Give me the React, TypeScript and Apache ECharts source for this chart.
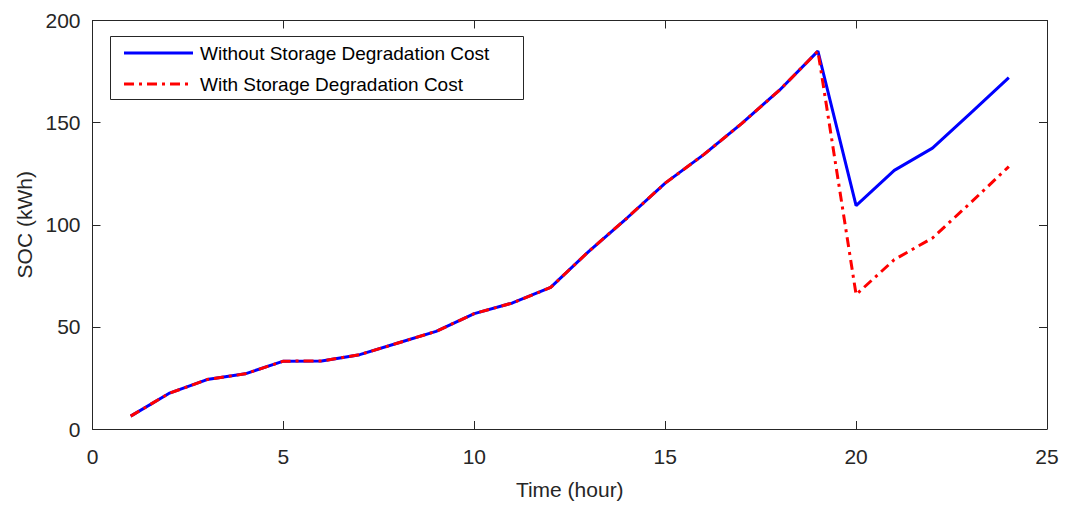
import React, { useEffect, useRef } from "react";
import * as echarts from "echarts";

const hours = [1, 2, 3, 4, 5, 6, 7, 8, 9, 10, 11, 12, 13, 14, 15, 16, 17, 18, 19, 20, 21, 22, 23, 24];
const withoutCost = [6.3, 17.4, 24.2, 27, 33.2, 33.3, 36.4, 42.1, 47.8, 56.5, 61.7, 69.3, 87, 103.3, 120.4, 134.2, 149.5, 166, 185, 109.4, 126.6, 137.5, 154.7, 172];
const withCost = [6.3, 17.4, 24.2, 27, 33.2, 33.3, 36.4, 42.1, 47.8, 56.5, 61.7, 69.3, 87, 103.3, 120.4, 134.2, 149.5, 166, 185, 65.8, 82.9, 93.5, 110.8, 128.5];
const seriesNames = ["Without Storage Degradation Cost", "With Storage Degradation Cost"];
const seriesColors = ["#0000ff", "#ff0000"];
const xTitle = "Time (hour)";
const yTitle = "SOC (kWh)";

const FONT = "'Liberation Sans', Arial, Helvetica, sans-serif";
const AX = "#262626";
const DASHDOT = [10, 5, 3, 5];

export default function App() {
  const ref = useRef<HTMLDivElement>(null);
  useEffect(() => {
    if (!ref.current) return;
    const chart = echarts.init(ref.current, undefined, { renderer: "svg" });
    const axisLine = { show: true, onZero: false, lineStyle: { color: AX, width: 1 } };
    const axisTick = { show: true, inside: true, length: 8, lineStyle: { color: AX } };
    const legendRows = [53, 84];
    const legendGraphics: any[] = [
      {
        type: "rect",
        shape: { x: 110.5, y: 36.5, width: 413, height: 63 },
        style: { fill: "#ffffff", stroke: AX, lineWidth: 1 },
        z: 100,
      },
    ];
    seriesNames.forEach((n, i) => {
      legendGraphics.push({
        type: "line",
        shape: { x1: 124, y1: legendRows[i], x2: 193, y2: legendRows[i] },
        style: { stroke: seriesColors[i], lineWidth: 3, lineDash: i === 1 ? DASHDOT : null },
        z: 101,
      });
      legendGraphics.push({
        type: "text",
        x: 200,
        y: legendRows[i],
        style: { text: n, fontSize: 19, fontFamily: FONT, fill: "#000000", textVerticalAlign: "middle", verticalAlign: "middle" },
        z: 101,
      });
    });
    chart.setOption({
      animation: false,
      backgroundColor: "#ffffff",
      textStyle: { fontFamily: FONT },
      grid: { left: 92.5, top: 20.5, right: 18, bottom: 75.5, containLabel: false },
      graphic: legendGraphics,
      xAxis: [
        {
          type: "value",
          min: 0,
          max: 25,
          interval: 5,
          name: xTitle,
          nameLocation: "middle",
          nameGap: 50,
          nameTextStyle: { fontSize: 21, color: AX, fontFamily: FONT },
          axisLine,
          axisTick,
          splitLine: { show: false },
          axisLabel: { fontSize: 21, color: AX, margin: 17, fontFamily: FONT },
        },
        {
          type: "value",
          position: "top",
          min: 0,
          max: 25,
          interval: 5,
          axisLine,
          axisTick,
          splitLine: { show: false },
          axisLabel: { show: false },
        },
      ],
      yAxis: [
        {
          type: "value",
          min: 0,
          max: 200,
          interval: 50,
          name: yTitle,
          nameLocation: "middle",
          nameGap: 57,
          nameTextStyle: { fontSize: 21, color: AX, fontFamily: FONT },
          axisLine,
          axisTick,
          splitLine: { show: false },
          axisLabel: { fontSize: 21, color: AX, margin: 12, fontFamily: FONT },
        },
        {
          type: "value",
          position: "right",
          min: 0,
          max: 200,
          interval: 50,
          axisLine,
          axisTick,
          splitLine: { show: false },
          axisLabel: { show: false },
        },
      ],
      series: [
        {
          name: seriesNames[0],
          type: "line",
          data: hours.map((h, i) => [h, withoutCost[i]]),
          showSymbol: false,
          symbol: "none",
          lineStyle: { color: seriesColors[0], width: 3, type: "solid" },
          itemStyle: { color: seriesColors[0] },
          z: 2,
        },
        {
          name: seriesNames[1],
          type: "line",
          data: hours.map((h, i) => [h, withCost[i]]),
          showSymbol: false,
          symbol: "none",
          lineStyle: { color: seriesColors[1], width: 3, type: DASHDOT },
          itemStyle: { color: seriesColors[1] },
          z: 3,
        },
      ],
    });
    return () => chart.dispose();
  }, []);
  return <div ref={ref} style={{ width: 1065, height: 505, position: "absolute", left: 0, top: 0 }} />;
}
